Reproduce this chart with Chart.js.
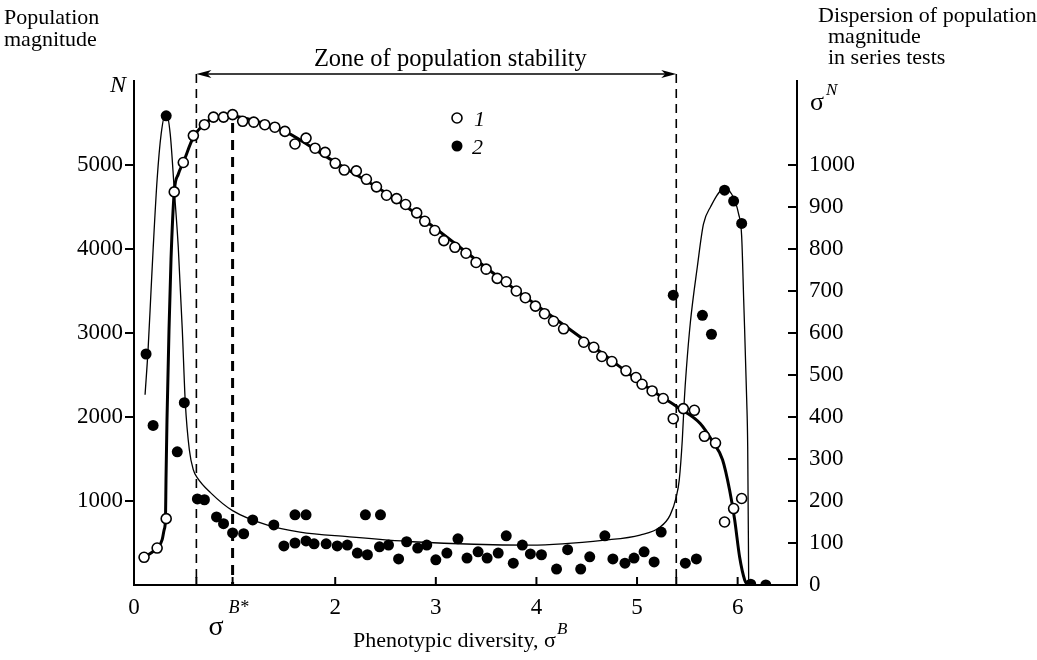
<!DOCTYPE html>
<html>
<head>
<meta charset="utf-8">
<title>Population magnitude vs phenotypic diversity</title>
<script src="https://cdn.jsdelivr.net/npm/chart.js@4.4.1/dist/chart.umd.min.js"></script>
<style>
    html, body { margin: 0; padding: 0; background: #fff; }
    #wrap { position: relative; width: 1037px; height: 660px; }
</style>
</head>
<body>
<div id="wrap"><canvas id="chart" width="1037" height="660"></canvas></div>
<script>
// ===================================
// Data
// ===================================

// 1 - population magnitude N (open circles, left axis)
const popX = [0.10, 0.23, 0.32, 0.40, 0.49, 0.59, 0.70, 0.79, 0.89, 0.98,
              1.08, 1.19, 1.30, 1.40, 1.50, 1.60, 1.71, 1.80, 1.90, 2.00,
              2.09, 2.21, 2.31, 2.41, 2.51, 2.61, 2.70, 2.81, 2.89, 2.99,
              3.08, 3.19, 3.30, 3.40, 3.50, 3.61, 3.70, 3.80, 3.89, 3.99,
              4.08, 4.17, 4.27, 4.47, 4.57, 4.65, 4.75, 4.89, 4.99, 5.05,
              5.15, 5.26, 5.36, 5.46, 5.57, 5.67, 5.78, 5.87, 5.96, 6.04];
const popN = [330, 440, 790, 4680, 5030, 5350, 5480, 5570, 5570, 5600,
              5520, 5510, 5480, 5450, 5400, 5250, 5320, 5200, 5150, 5020,
              4940, 4930, 4830, 4740, 4640, 4600, 4530, 4430, 4330, 4220,
              4100, 4020, 3950, 3840, 3760, 3650, 3610, 3500, 3420, 3320,
              3230, 3140, 3050, 2890, 2830, 2720, 2660, 2550, 2470, 2390,
              2310, 2220, 1980, 2100, 2080, 1770, 1690, 750, 910, 1030];

// 2 - dispersion of population magnitude (filled circles, right axis)
const dispX = [0.12, 0.19, 0.32, 0.43, 0.50, 0.63, 0.70, 0.82, 0.89, 0.98,
               1.09, 1.18, 1.39, 1.49, 1.60, 1.60, 1.71, 1.71, 1.79, 1.91,
               2.02, 2.12, 2.22, 2.30, 2.32, 2.45, 2.44, 2.53, 2.63, 2.71,
               2.82, 2.91, 3.00, 3.11, 3.22, 3.31, 3.42, 3.51, 3.62, 3.70,
               3.77, 3.86, 3.94, 4.05, 4.20, 4.31, 4.44, 4.53, 4.68, 4.76,
               4.88, 4.97, 5.07, 5.17, 5.24, 5.36, 5.48, 5.59, 5.65, 5.74,
               5.87, 5.96, 6.04, 6.13, 6.28];
const dispS = [550, 380, 1117, 317, 434, 205, 203, 162, 146, 124,
               122, 155, 143, 93, 100, 167, 167, 105, 98, 98,
               93, 95, 76, 167, 72, 167, 91, 95, 62, 103,
               88, 95, 60, 76, 110, 64, 79, 64, 76, 117,
               52, 95, 74, 72, 38, 84, 38, 67, 117, 62,
               52, 64, 79, 55, 126, 690, 52, 62, 642, 597,
               940, 914, 861, 2, 0];

// smoothed curves drawn through the two series
const fitNX = [0.10, 0.18, 0.24, 0.28, 0.30, 0.313, 0.318, 0.328, 0.348, 0.368,
               0.40, 0.44, 0.49, 0.59, 0.70, 0.80, 0.98, 1.25, 1.50, 1.95,
               2.64, 3.64, 4.63, 5.13, 5.40, 5.63, 5.75, 5.85, 5.92, 5.97,
               6.02, 6.07, 6.10];
const fitNY = [330, 390, 450, 540, 660, 790, 1250, 1970, 3040, 3880,
               4680, 4890, 5030, 5330, 5490, 5560, 5580, 5510, 5400, 5070,
               4560, 3650, 2780, 2330, 2120, 1920, 1710, 1490, 1130, 780,
               330, 60, 0];

const fitSX = [0.11, 0.14, 0.17, 0.19, 0.23, 0.27, 0.318, 0.36, 0.40, 0.44,
               0.48, 0.51, 0.55, 0.59, 0.63, 0.76, 0.98, 1.32, 1.65, 2.12,
               2.77, 3.94, 4.68, 5.03, 5.23, 5.33, 5.39, 5.42, 5.45, 5.47,
               5.49, 5.53, 5.60, 5.66, 5.73, 5.86, 5.94, 6.01, 6.04, 6.06,
               6.09, 6.10, 6.11];
const fitSY = [453, 561, 704, 799, 966, 1074, 1126, 1074, 942, 804,
               608, 434, 322, 274, 255, 220, 177, 143, 126, 115,
               103, 95, 107, 119, 138, 167, 210, 251, 346, 441,
               513, 625, 759, 859, 900, 942, 931, 883, 830, 680,
               441, 329, 0];

// axes
const xMin = 0, xMax = 6.59;
const nMax = 6000, sMax = 1200;
const xTickVals = [0, 0.62, 0.98, 2, 3, 4, 5, 5.39, 6];
const xLabelVals = [0, 2, 3, 4, 5, 6];
const nTickVals = [1000, 2000, 3000, 4000, 5000];
const sTickVals = [0, 100, 200, 300, 400, 500, 600, 700, 800, 900, 1000];

// zone of population stability and optimum sigma B*
const zoneEdges = [0.62, 5.39];
const sigmaOpt = 0.98;

// ===================================
// Helpers
// ===================================
const SERIF = '"Liberation Serif", "Times New Roman", serif';

function toPoints(xs, ys) {
    return xs.map((x, i) => ({ x: x, y: ys[i] }));
}

function strokeLine(ctx, x1, y1, x2, y2) {
    ctx.beginPath();
    ctx.moveTo(x1, y1);
    ctx.lineTo(x2, y2);
    ctx.stroke();
}

function arrowHead(ctx, x, y, dir) {
    ctx.beginPath();
    ctx.moveTo(x, y);
    ctx.lineTo(x + dir * 15, y - 4);
    ctx.lineTo(x + dir * 11, y);
    ctx.lineTo(x + dir * 15, y + 4);
    ctx.closePath();
    ctx.fill();
}

// ===================================
// Annotation plugin (dashed lines, arrow, texts, legend)
// ===================================
const decorPlugin = {
    id: 'decor',
    beforeDatasetsDraw(chart) {
        const { ctx, chartArea: a, scales: { x } } = chart;
        ctx.save();
        ctx.strokeStyle = '#000';

        ctx.lineWidth = 1.6;
        ctx.setLineDash([9, 6]);
        zoneEdges.forEach(v => {
            const px = x.getPixelForValue(v);
            strokeLine(ctx, px, 74, px, a.bottom);
        });

        ctx.lineWidth = 3;
        ctx.setLineDash([10, 7]);
        const po = x.getPixelForValue(sigmaOpt);
        strokeLine(ctx, po, 123, po, a.bottom);
        ctx.restore();
    },
    afterDraw(chart) {
        const { ctx, chartArea: a, scales: { x, yS } } = chart;
        ctx.save();
        ctx.strokeStyle = '#000';
        ctx.fillStyle = '#000';

        // inward tick marks on bottom and right axes
        ctx.lineWidth = 2;
        x.ticks.forEach(t => {
            if (t.value === 0) return;
            const px = x.getPixelForValue(t.value);
            strokeLine(ctx, px, a.bottom, px, a.bottom - 8);
        });
        yS.ticks.forEach(t => {
            if (t.value === 0) return;
            const py = yS.getPixelForValue(t.value);
            strokeLine(ctx, a.right - 9, py, a.right, py);
        });

        // zone arrow
        const xl = x.getPixelForValue(zoneEdges[0]);
        const xr = x.getPixelForValue(zoneEdges[1]);
        ctx.lineWidth = 1.5;
        strokeLine(ctx, xl + 4, 74, xr - 4, 74);
        arrowHead(ctx, xl, 74, 1);
        arrowHead(ctx, xr, 74, -1);

        // texts
        ctx.textBaseline = 'alphabetic';
        ctx.textAlign = 'left';
        ctx.font = '22px ' + SERIF;
        ctx.fillText('Population', 4, 24);
        ctx.fillText('magnitude', 4, 46);
        ctx.fillText('Dispersion of population', 818, 22);
        ctx.fillText('magnitude', 828, 43);
        ctx.fillText('in series tests', 828, 64);

        ctx.font = '24.5px ' + SERIF;
        ctx.textAlign = 'center';
        ctx.fillText('Zone of population stability', (xl + xr) / 2 + 14, 66);
        ctx.textAlign = 'left';

        ctx.font = 'italic 24px ' + SERIF;
        ctx.fillText('N', 110, 92);

        // sigma^N on the right axis
        ctx.font = '26px ' + SERIF;
        ctx.fillText('σ', 810, 110);
        ctx.font = 'italic 17px ' + SERIF;
        ctx.fillText('N', 826, 95);

        // sigma^B* under the optimum line
        const po = x.getPixelForValue(sigmaOpt);
        ctx.font = '28px ' + SERIF;
        ctx.fillText('σ', po - 24, 635);
        ctx.font = 'italic 18px ' + SERIF;
        ctx.fillText('B*', po - 4, 613);

        // x axis title
        ctx.font = '22px ' + SERIF;
        const title = 'Phenotypic diversity, σ';
        ctx.fillText(title, 353, 647);
        const tw = ctx.measureText(title).width;
        ctx.font = 'italic 17px ' + SERIF;
        ctx.fillText('B', 353 + tw + 1, 634);

        // legend
        ctx.lineWidth = 1.6;
        ctx.beginPath();
        ctx.arc(457, 118, 5, 0, Math.PI * 2);
        ctx.fillStyle = '#fff';
        ctx.fill();
        ctx.stroke();
        ctx.fillStyle = '#000';
        ctx.beginPath();
        ctx.arc(457, 146, 5.5, 0, Math.PI * 2);
        ctx.fill();
        ctx.font = 'italic 22px ' + SERIF;
        ctx.fillText('1', 474, 126);
        ctx.fillText('2', 472, 154);

        ctx.restore();
    }
};

// ===================================
// Chart
// ===================================
function buildChart() {
    const ctx = document.getElementById('chart');

    new Chart(ctx, {
        type: 'scatter',
        data: {
            datasets: [
                {
                    label: '1',
                    data: toPoints(popX, popN),
                    yAxisID: 'yN',
                    pointRadius: 5,
                    pointBackgroundColor: '#fff',
                    pointBorderColor: '#000',
                    pointBorderWidth: 1.6
                },
                {
                    label: '2',
                    data: toPoints(dispX, dispS),
                    yAxisID: 'yS',
                    pointRadius: 5.5,
                    pointBackgroundColor: '#000',
                    pointBorderColor: '#000',
                    pointBorderWidth: 0
                },
                {
                    label: 'fit N',
                    data: toPoints(fitNX, fitNY),
                    yAxisID: 'yN',
                    showLine: true,
                    pointRadius: 0,
                    borderColor: '#000',
                    borderWidth: 3,
                    cubicInterpolationMode: 'monotone'
                },
                {
                    label: 'fit sigma',
                    data: toPoints(fitSX, fitSY),
                    yAxisID: 'yS',
                    showLine: true,
                    pointRadius: 0,
                    borderColor: '#000',
                    borderWidth: 1.3,
                    cubicInterpolationMode: 'monotone'
                }
            ]
        },
        options: {
            responsive: false,
            animation: false,
            layout: { padding: { top: 81, left: 0, right: 0, bottom: 0 } },
            plugins: {
                legend: { display: false },
                tooltip: { enabled: false }
            },
            scales: {
                x: {
                    type: 'linear',
                    min: xMin,
                    max: xMax,
                    afterBuildTicks: scale => {
                        scale.ticks = xTickVals.map(v => ({ value: v }));
                    },
                    afterFit: scale => { scale.height = 75; },
                    grid: { display: true, drawOnChartArea: false, drawTicks: false },
                    border: { display: true, color: '#000', width: 2 },
                    ticks: {
                        padding: 9,
                        color: '#000',
                        maxRotation: 0,
                        autoSkip: false,
                        font: { family: SERIF, size: 23 },
                        callback: v => xLabelVals.includes(v) ? String(v) : ''
                    }
                },
                yN: {
                    type: 'linear',
                    position: 'left',
                    min: 0,
                    max: nMax,
                    afterBuildTicks: scale => {
                        scale.ticks = nTickVals.map(v => ({ value: v }));
                    },
                    afterFit: scale => { scale.width = 134; },
                    grid: { drawOnChartArea: false, drawTicks: true, tickLength: 9, color: '#000', lineWidth: 2 },
                    border: { display: true, color: '#000', width: 2 },
                    ticks: {
                        padding: 2,
                        color: '#000',
                        font: { family: SERIF, size: 23 },
                        callback: v => String(v)
                    }
                },
                yS: {
                    type: 'linear',
                    position: 'right',
                    min: 0,
                    max: sMax,
                    afterBuildTicks: scale => {
                        scale.ticks = sTickVals.map(v => ({ value: v }));
                    },
                    afterFit: scale => { scale.width = 240; },
                    grid: { drawOnChartArea: false, drawTicks: false },
                    border: { display: true, color: '#000', width: 2 },
                    ticks: {
                        padding: 12,
                        color: '#000',
                        font: { family: SERIF, size: 23 },
                        callback: v => String(v)
                    }
                }
            }
        },
        plugins: [decorPlugin]
    });
}

buildChart();
</script>
</body>
</html>
